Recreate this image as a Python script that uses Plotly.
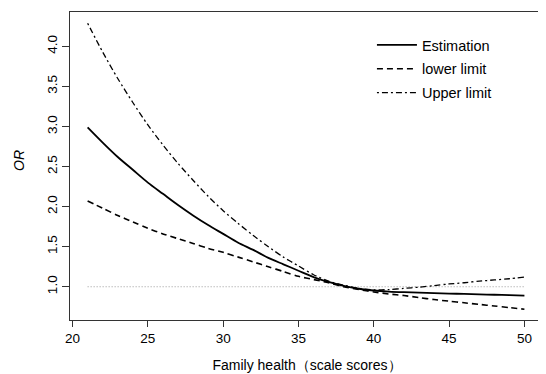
import plotly.graph_objects as go

scores = list(range(21, 51))
estimation = [2.99, 2.80, 2.62, 2.46, 2.30, 2.16, 2.02, 1.89, 1.77, 1.66,
              1.55, 1.46, 1.36, 1.28, 1.20, 1.12, 1.06, 1.01, 0.975, 0.953,
              0.94, 0.932, 0.926, 0.921, 0.915, 0.91, 0.905, 0.90, 0.895, 0.89]
lower_limit = [2.07, 1.98, 1.89, 1.81, 1.73, 1.66, 1.60, 1.54, 1.48, 1.43,
               1.37, 1.31, 1.25, 1.19, 1.13, 1.09, 1.05, 1.00, 0.965, 0.935,
               0.91, 0.89, 0.865, 0.84, 0.82, 0.80, 0.78, 0.76, 0.74, 0.72]
upper_limit = [4.29, 3.93, 3.60, 3.30, 3.02, 2.77, 2.54, 2.33, 2.13, 1.95,
               1.79, 1.64, 1.50, 1.37, 1.26, 1.15, 1.07, 1.02, 0.98, 0.96,
               0.965, 0.98, 0.995, 1.015, 1.035, 1.05, 1.07, 1.085, 1.10, 1.12]
ref_x = [21, 50]
ref_y = [1.0, 1.0]
x_ticks = [20, 25, 30, 35, 40, 45, 50]
y_ticks = [1.0, 1.5, 2.0, 2.5, 3.0, 3.5, 4.0]

FONT = "Arial, 'Liberation Sans', sans-serif"

fig = go.Figure()
fig.add_trace(go.Scatter(x=ref_x, y=ref_y, mode="lines", showlegend=False,
                         line=dict(color="#9a9a9a", width=1.2, dash="1px,2px")))
fig.add_trace(go.Scatter(x=scores, y=estimation, mode="lines", name="Estimation",
                         legendgroup="a",
                         line=dict(color="black", width=1.8, shape="spline", smoothing=0.8)))
fig.add_trace(go.Scatter(x=scores, y=lower_limit, mode="lines", name="lower limit",
                         legendgroup="b",
                         line=dict(color="black", width=1.6, dash="6px,4px", shape="spline", smoothing=0.8)))
fig.add_trace(go.Scatter(x=scores, y=upper_limit, mode="lines", name="Upper limit",
                         legendgroup="c",
                         line=dict(color="black", width=1.3, dash="2px,3px,6px,3px", shape="spline", smoothing=0.8)))

fig.update_layout(
    width=546, height=374,
    margin=dict(l=62, r=10, t=4, b=62),
    paper_bgcolor="white", plot_bgcolor="white",
    font=dict(family=FONT, size=13.5, color="black"),
    legend=dict(x=0.637, y=0.945, xanchor="left", yanchor="top",
                bgcolor="rgba(0,0,0,0)", font=dict(size=14.5),
                tracegroupgap=2, itemwidth=40),
    xaxis=dict(range=[19.83, 51.3], tickvals=x_ticks, ticks="outside", ticklen=6,
               tickcolor="#333", showline=True, linecolor="#333", linewidth=1,
               mirror=True, showgrid=False, zeroline=False,
               title=dict(text="Family health（scale scores）", standoff=14,
                          font=dict(size=14))),
    yaxis=dict(range=[0.585, 4.43], tickvals=y_ticks, ticktext=[f"{v:.1f}" for v in y_ticks],
               tickangle=-90, ticks="outside", ticklen=7,
               tickcolor="#333", showline=True, linecolor="#333", linewidth=1,
               mirror=True, showgrid=False, zeroline=False),
    annotations=[dict(text="<i>OR</i>", xref="paper", yref="paper", x=-0.108, y=0.519,
                      xanchor="center", yanchor="middle", textangle=-90, showarrow=False,
                      font=dict(size=14))],
)

fig.write_html("out.html")
